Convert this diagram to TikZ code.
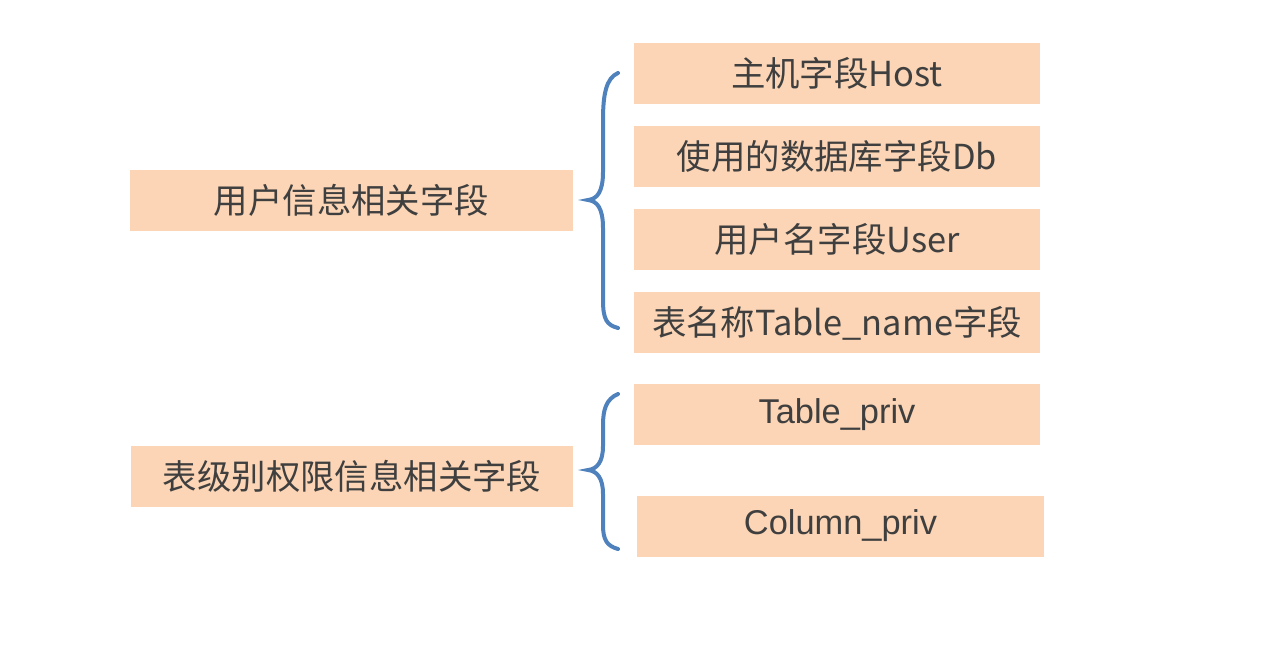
\documentclass[tikz,border=0pt]{standalone}
\usepackage{fontspec}
\setmainfont{Liberation Sans}
\newfontfamily\cjk{Noto Sans CJK SC}
\usepackage{xcolor}
\usetikzlibrary{positioning}
\definecolor{boxfill}{HTML}{FBD5B5}
\definecolor{bracecol}{HTML}{4F81BD}
\definecolor{textcol}{HTML}{3F3F3F}
\tikzset{field/.style = {fill=boxfill, text=textcol, minimum height=30.5pt, inner sep=0pt, font=\fontsize{17.2}{20}\selectfont}}
\tikzset{brace line/.style = {draw=bracecol, line width=2pt, line cap=round}}

\begin{document}
\begin{tikzpicture}[x=0.5pt,y=-0.5pt]
                \useasboundingbox (0,0) rectangle (1285,669);
                % left groups
                \node[field, minimum width=221.5pt] (user) at (351.5,200.5) {\cjk{用户信息相关字段}};
                \node[field, minimum width=221pt] (table) at (352,476.5) {\cjk{表级别权限信息相关字段}};

                % right fields
                \node[field, minimum width=203pt] (host) at (837,73.5) {\cjk{主机字段}Host};
                \node[field, minimum width=203pt] (db) [below=10.5pt of host] {\cjk{使用的数据库字段}Db};
                \node[field, minimum width=203pt] (uname) [below=10.5pt of db] {\cjk{用户名字段}User};
                \node[field, minimum width=203pt] (tname) [below=11pt of uname] {\cjk{表名称}Table\_name\cjk{字段}};
                \node[field, minimum width=203pt] (tpriv) at (837,414.5) {Table\_priv};
                \node[field, minimum width=203.5pt] (cpriv) at (840.5,526) {Column\_priv};

                % braces
                \draw[brace line] (618,73) .. controls (606,78) and (603,95) .. (603,120)
                    -- (603,172) .. controls (603,192) and (597,199) .. (588,200)
                    .. controls (597,201) and (603,208) .. (603,228)
                    -- (603,300) .. controls (603,320) and (607,325) .. (618,328);
                \draw[brace line] (618,394) .. controls (606,399) and (603,410) .. (603,425)
                    -- (603,446) .. controls (603,462) and (597,469) .. (588,470)
                    .. controls (597,471) and (603,478) .. (603,494)
                    -- (603,525) .. controls (603,540) and (607,546) .. (618,549);
            \end{tikzpicture}
\end{document}
